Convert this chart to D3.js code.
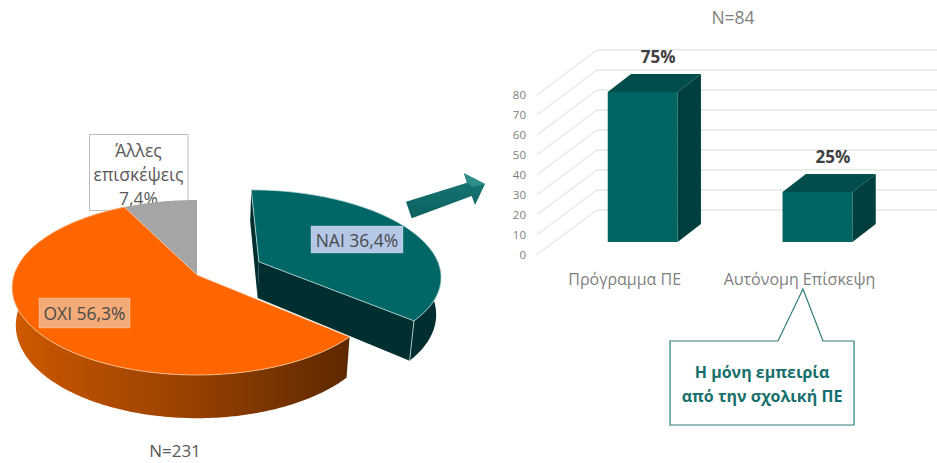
<!DOCTYPE html>
<html>
<head>
<meta charset="utf-8">
<script src="https://cdn.jsdelivr.net/npm/d3@7/dist/d3.min.js"></script>
<style>
html,body{margin:0;padding:0;background:#fff}
svg{display:block}
text{font-family:"Open Sans","Noto Sans",sans-serif}
</style>
</head>
<body>
<svg id="chart" width="937" height="463"></svg>
<script>
// Visit shares
const sliceNames = ["ΝΑΙ", "ΟΧΙ", "Άλλες επισκέψεις"];
const sliceValues = [36.4, 56.3, 7.4];
const sliceColors = ["#006666", "#ff6600", "#a5a5a5"];
const totalLabel = "N=231";

// Visit type among the "yes" answers
const barCategories = ["Πρόγραμμα ΠΕ", "Αυτόνομη Επίσκεψη"];
const barValues = [75, 25];
const barLabels = ["75%", "25%"];
const axisTicks = [0, 10, 20, 30, 40, 50, 60, 70, 80];
const subTotalLabel = "N=84";
const noteLines = ["Η μόνη εμπειρία", "από την σχολική ΠΕ"];

const svg = d3.select("#chart");
const defs = svg.append("defs");

const textGrey = "#595959";

// ---------- Tilted pie ----------
const pieCx = 197, pieCy = 275, radiusX = 183, radiusY = 85.7, nearGain = 0.143;
const wallDepth = 37, baseShrink = 0.98, explode = 0.38;

// Perspective projection of a point of the pie plane (front is +y)
function project(px, py, drop) {
  const s = 1 / (1 - nearGain * py);
  const x = radiusX * px * s;
  const y = radiusY * py * s;
  return drop
    ? [pieCx + x * baseShrink, pieCy + y + wallDepth * s]
    : [pieCx + x, pieCy + y];
}

const arcs = d3.pie().sort(null).value(d => d)(sliceValues);
const polyline = d3.line();

arcs.forEach((a, i) => {
  const mid = (a.startAngle + a.endAngle) / 2;
  a.name = sliceNames[i];
  a.color = sliceColors[i];
  a.ox = i === 0 ? explode * Math.sin(mid) : 0;
  a.oy = i === 0 ? -explode * Math.cos(mid) : 0;
});

function rimPoints(a, from, to, drop) {
  const n = Math.max(2, Math.ceil(Math.abs(to - from) * 60));
  return d3.range(n + 1).map(k => {
    const t = from + (to - from) * k / n;
    return project(a.ox + Math.sin(t), a.oy - Math.cos(t), drop);
  });
}
const apex = (a, drop) => project(a.ox, a.oy, drop);

const rimShade = defs.append("linearGradient")
  .attr("id", "rimShade").attr("gradientUnits", "userSpaceOnUse")
  .attr("x1", 14).attr("x2", 352).attr("y1", 0).attr("y2", 0);
[[0, "#cf5a00"], [0.12, "#bf5200"], [0.5, "#9a4200"], [1, "#5c2800"]].forEach(([o, c]) =>
  rimShade.append("stop").attr("offset", o).attr("stop-color", c));

// Label box of the small slice sits beneath the pie
const smallBox = svg.append("g");
smallBox.append("rect")
  .attr("x", 89.5).attr("y", 134.5).attr("width", 98.5).attr("height", 76)
  .attr("fill", "#fff").attr("stroke", "#bfbfbf");
smallBox.selectAll("text").data(["Άλλες", "επισκέψεις", "7,4%"]).join("text")
  .attr("x", 138.5).attr("y", (d, i) => 157 + i * 24)
  .attr("text-anchor", "middle").attr("font-size", 17.5).attr("fill", textGrey)
  .text(d => d);

const pieG = svg.append("g");
const [yes, no, other] = arcs;

// Orange side wall with its horizontal shading
pieG.append("path")
  .attr("d", polyline([
    ...rimPoints(no, no.startAngle, no.endAngle, false),
    ...rimPoints(no, no.endAngle, no.startAngle, true)
  ]) + "Z")
  .attr("fill", "url(#rimShade)");

// Grey and orange top faces
[other, no].forEach(a => {
  pieG.append("path")
    .attr("d", polyline([apex(a), ...rimPoints(a, a.startAngle, a.endAngle, false)]) + "Z")
    .attr("fill", a.color)
    .attr("stroke", a === no ? "#ffc9a0" : "none")
    .attr("stroke-width", 0.8);
});

// Pulled-out slice: cut walls, outer wall, then its top face
const wallFill = "#012e2f", edge = "#bfe0dc";
const p0top = project(yes.ox + Math.sin(yes.startAngle), yes.oy - Math.cos(yes.startAngle), false);
const p0bot = project(yes.ox + Math.sin(yes.startAngle), yes.oy - Math.cos(yes.startAngle), true);
const p1top = project(yes.ox + Math.sin(yes.endAngle), yes.oy - Math.cos(yes.endAngle), false);
const p1bot = project(yes.ox + Math.sin(yes.endAngle), yes.oy - Math.cos(yes.endAngle), true);

pieG.append("path")
  .attr("d", polyline([p0top, apex(yes), apex(yes, true), p0bot]) + "Z")
  .attr("fill", wallFill);
pieG.append("path")
  .attr("d", polyline([
    ...rimPoints(yes, Math.PI / 2.2, yes.endAngle, false),
    ...rimPoints(yes, yes.endAngle, Math.PI / 2.2, true)
  ]) + "Z")
  .attr("fill", wallFill);
pieG.append("path")
  .attr("d", polyline([apex(yes), p1top, p1bot, apex(yes, true)]) + "Z")
  .attr("fill", wallFill);
pieG.append("path")
  .attr("d", polyline([p1top, p1bot]))
  .attr("stroke", edge).attr("stroke-width", 0.8).attr("fill", "none");
pieG.append("path")
  .attr("d", polyline([apex(yes), ...rimPoints(yes, yes.startAngle, yes.endAngle, false)]) + "Z")
  .attr("fill", yes.color).attr("stroke", edge).attr("stroke-width", 0.8);

// Value tags on the large slices
function tag(x, y, w, h, fill, label) {
  svg.append("rect").attr("x", x).attr("y", y).attr("width", w).attr("height", h)
    .attr("fill", fill).attr("stroke", "#ffffff").attr("stroke-opacity", 0.25);
  svg.append("text").attr("x", x + w / 2).attr("y", y + h / 2 + 7)
    .attr("text-anchor", "middle").attr("font-size", 17.5).attr("fill", "#4a4a4a").text(label);
}
tag(311, 226, 92, 27, "#b4c7e7", `${yes.name} ${String(yes.value).replace(".", ",")}%`);
tag(39, 298, 91, 30, "#f4ab78", `${no.name} ${String(no.value).replace(".", ",")}%`);

svg.append("text").attr("x", 175).attr("y", 457)
  .attr("text-anchor", "middle").attr("font-size", 17).attr("fill", textGrey).text(totalLabel);

// ---------- Connector arrow ----------
const arrowFill = defs.append("linearGradient").attr("id", "arrowFill")
  .attr("x1", 0).attr("y1", 1).attr("x2", 0).attr("y2", 0);
arrowFill.append("stop").attr("offset", 0).attr("stop-color", "#0a605e");
arrowFill.append("stop").attr("offset", 1).attr("stop-color", "#1a7a76");
svg.append("path")
  .attr("d", polyline([[406, 201.7], [467, 182.7], [464, 173.3], [485, 184], [475, 205], [471.7, 196], [411.7, 218.3]]) + "Z")
  .attr("fill", "url(#arrowFill)");
svg.append("path")
  .attr("d", polyline([[467, 182.7], [464, 173.3], [485, 184], [473, 187]]) + "Z")
  .attr("fill", "#2f8f8a");

// ---------- 3D column chart ----------
const yFront = d3.scaleLinear().domain([0, 80]).range([242, 82]);
const yBack = d3.scaleLinear().domain([0, 80]).range([210, 50]);
const yAxis = d3.scaleLinear().domain([0, 80]).range([254.5, 95]);
const xBand = d3.scaleBand().domain(barCategories).range([555.3, 904.9])
  .paddingInner(0.6).paddingOuter(0.3);
const wallLeft = 597, wallRight = 937, sideLeft = 537, barDx = 23.3, barDy = 18;

const grid = svg.append("g").attr("stroke", "#e8e8e8").attr("stroke-width", 1.4).attr("fill", "none");
axisTicks.forEach(t => {
  grid.append("path").attr("d", polyline([
    [sideLeft, yAxis(t)], [wallLeft, yBack(t)], [wallRight, yBack(t)]
  ]));
});

const axisG = svg.append("g").attr("transform", "translate(526,0)")
  .call(d3.axisLeft(yAxis).tickValues(axisTicks).tickSize(0).tickPadding(0));
axisG.select(".domain").remove();
axisG.selectAll("text").attr("font-size", 11.5).attr("fill", "#7f7f7f")
  .style("font-family", '"Open Sans","Noto Sans",sans-serif');

const bars = svg.selectAll("g.column")
  .data(barCategories.map((c, i) => ({ c, v: barValues[i], label: barLabels[i] })))
  .join("g").attr("class", "column");

bars.append("path").attr("fill", "#004d4b").attr("d", d => {
  const x0 = xBand(d.c), x1 = x0 + xBand.bandwidth(), y = yFront(d.v);
  return polyline([[x0, y], [x0 + barDx, y - barDy], [x1 + barDx, y - barDy], [x1, y]]) + "Z";
});
bars.append("path").attr("fill", "#003f3d").attr("d", d => {
  const x1 = xBand(d.c) + xBand.bandwidth(), y = yFront(d.v), b = yFront(0);
  return polyline([[x1, y], [x1 + barDx, y - barDy], [x1 + barDx, b - barDy], [x1, b]]) + "Z";
});
bars.append("rect").attr("fill", "#006462")
  .attr("x", d => xBand(d.c)).attr("width", xBand.bandwidth())
  .attr("y", d => yFront(d.v)).attr("height", d => yFront(0) - yFront(d.v));
bars.append("text")
  .attr("x", d => xBand(d.c) + xBand.bandwidth() / 2 + 15.5)
  .attr("y", d => yFront(d.v) - 29)
  .attr("text-anchor", "middle").attr("font-size", 17).attr("font-weight", 700)
  .attr("fill", "#404040").text(d => d.label);
bars.append("text")
  .attr("x", d => xBand(d.c) + xBand.bandwidth() / 2 - 18)
  .attr("y", 285)
  .attr("text-anchor", "middle").attr("font-size", 16).attr("fill", "#7f7f7f")
  .text(d => d.c);

svg.append("text").attr("x", 733).attr("y", 24)
  .attr("text-anchor", "middle").attr("font-size", 17.5).attr("fill", "#7f7f7f").text(subTotalLabel);

// ---------- Callout note ----------
svg.append("path")
  .attr("d", polyline([[670, 341], [778, 341], [803, 289], [823, 341], [854, 341], [854, 425], [670, 425]]) + "Z")
  .attr("fill", "#fff").attr("stroke", "#2e7d78").attr("stroke-width", 1.2);
svg.selectAll("text.note").data(noteLines).join("text").attr("class", "note")
  .attr("x", 762).attr("y", (d, i) => 378 + i * 24)
  .attr("text-anchor", "middle").attr("font-size", 16).attr("font-weight", 700)
  .attr("fill", "#17706c").text(d => d);
</script>
</body>
</html>
